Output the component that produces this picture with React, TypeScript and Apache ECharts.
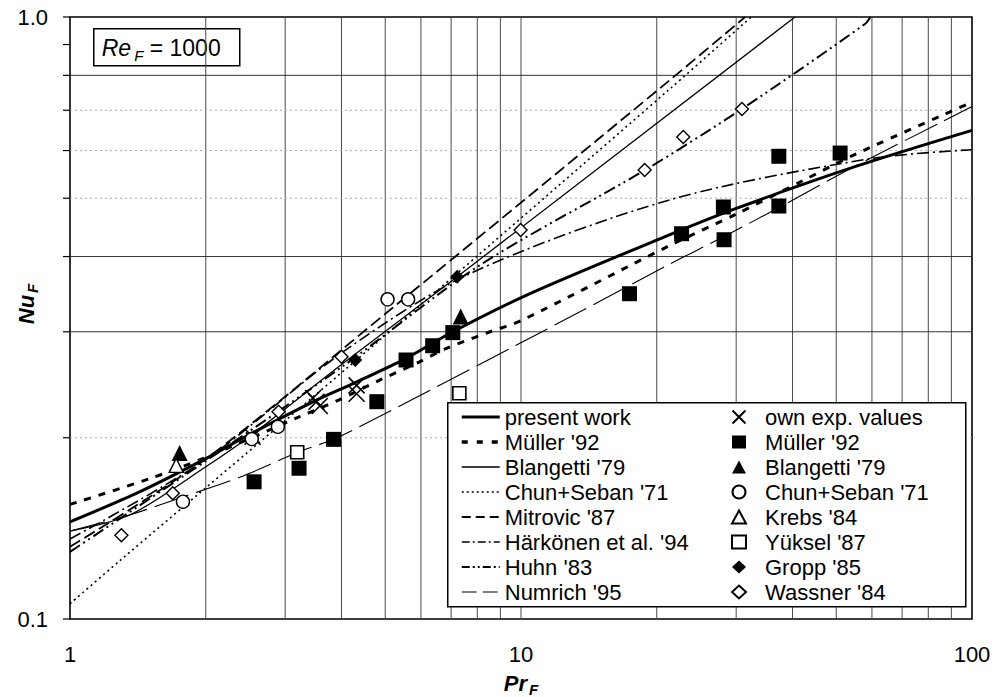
import React, { useEffect, useRef } from "react";
import * as echarts from "echarts";

// ---------- axis / grid values ----------
const xGridValues = [2, 3, 4, 5, 6, 7, 8, 9, 10, 20, 30, 40, 50, 60, 70, 80, 90];
const yGridDark = [0.3, 0.4, 0.8];
const yGridLight = [0.2, 0.5, 0.6, 0.7];
const yTickValues = [0.1, 0.2, 0.3, 0.4, 0.5, 0.6, 0.7, 0.8, 0.9, 1.0];
const yLabelMap: Record<string, string> = { "0.1": "0.1", "1": "1.0" };

// ---------- correlations (Pr_F, Nu_F) ----------
const presentWork = [[1, 0.145], [1.41, 0.162], [1.98, 0.184], [2.53, 0.2035], [3.52, 0.231], [4.29, 0.247], [5.56, 0.271], [7.06, 0.3], [10.5, 0.3475], [21.4, 0.435], [29.8, 0.48], [54.6, 0.563], [100, 0.648]];
const muellerFit = [[1, 0.155], [1.5, 0.171], [1.98, 0.185], [3.24, 0.217], [3.94, 0.231], [4.87, 0.2495], [5.87, 0.266], [6.84, 0.2816], [8.54, 0.3], [10, 0.313], [21.4, 0.4175], [30.1, 0.471], [42.3, 0.5355], [55.5, 0.593], [100, 0.722]];
const blangettiFit = [[1, 0.14], [1.36, 0.149], [2.0, 0.179], [2.53, 0.2024], [4.0, 0.2646], [7.22, 0.3703], [40.5, 1.0]];
const chunSebanFit = [[1, 0.106], [1.29, 0.125], [4.87, 0.291], [21.4, 0.76], [32.4, 1.0]];
const mitrovicFit = [[1, 0.1318], [2.0, 0.1844], [5.12, 0.326], [21.4, 0.786], [31.4, 1.0]];
const harkonenFit = [[1, 0.1358], [2.0, 0.184], [4.03, 0.2777], [7.71, 0.3748], [21.4, 0.497], [59.4, 0.5815], [100, 0.602]];
const huhnFit = [[1, 0.1293], [2.0, 0.183], [4.0, 0.262], [8.11, 0.387], [18.84, 0.557], [30.9, 0.7036], [57.9, 0.9736], [59.5, 1.0]];
const numrichFit = [[1, 0.14], [1.36, 0.149], [1.78, 0.1595], [2.42, 0.1728], [3.19, 0.189], [3.83, 0.1988], [4.63, 0.213], [12.84, 0.3174], [21.4, 0.3889], [28.05, 0.431], [37.5, 0.4835], [54.5, 0.563], [100, 0.71]];

// ---------- experimental data (Pr_F, Nu_F) ----------
const ownExp = [[2.54, 0.2008], [3.46, 0.2329], [3.52, 0.2295], [3.58, 0.2258], [4.32, 0.2444], [4.32, 0.2367]];
const muellerData = [[2.56, 0.169], [3.22, 0.178], [3.84, 0.1988], [4.79, 0.2296], [5.56, 0.2693], [6.37, 0.2844], [7.06, 0.299], [17.4, 0.347], [22.7, 0.4365], [28.1, 0.4835], [28.2, 0.4266], [37.3, 0.587], [37.3, 0.4853], [51.0, 0.5943]];
const blangettiData = [[1.75, 0.1887], [7.35, 0.318]];
const chunSebanData = [[1.78, 0.1566], [2.53, 0.199], [2.89, 0.2086], [5.06, 0.3396], [5.62, 0.3396]];
const krebsData = [[1.72, 0.18]];
const yukselData = [[3.19, 0.1892], [7.3, 0.2371]];
const groppData = [[4.29, 0.2693], [7.22, 0.3703]];
const wassnerData = [[1.3, 0.1378], [1.69, 0.1617], [2.9, 0.221], [4.0, 0.2727], [9.98, 0.4428], [18.8, 0.557], [22.9, 0.632], [30.9, 0.7036]];

const FONT = "'Liberation Sans', Arial, Helvetica, sans-serif";
const X_PATH = "path://M0,0L10,10M10,0L0,10";

export default function App() {
  const ref = useRef<HTMLDivElement>(null);

  useEffect(() => {
    document.body.style.margin = "0";
    if (!ref.current) return;
    const chart = echarts.init(ref.current, undefined, { renderer: "svg" });

    const lineDefs = [
      { name: "present work", data: presentWork, width: 3, type: "solid" as any, lw: 3, ltype: "solid" as any },
      { name: "Müller '92", data: muellerFit, width: 3, type: [7, 8], lw: 3.5, ltype: [6, 9] },
      { name: "Blangetti '79", data: blangettiFit, width: 1.3, type: "solid" as any, lw: 1.5, ltype: "solid" as any },
      { name: "Chun+Seban '71", data: chunSebanFit, width: 1.6, type: [2, 3.5], lw: 1.5, ltype: [2, 3] },
      { name: "Mitrovic '87", data: mitrovicFit, width: 1.8, type: [12, 5], lw: 2, ltype: [9, 5] },
      { name: "Härkönen et al. '94", data: harkonenFit, width: 1.6, type: [12, 4, 2, 4], lw: 1.6, ltype: [8, 3, 2, 3] },
      { name: "Huhn '83", data: huhnFit, width: 2, type: [12, 4, 2, 4, 2, 4], lw: 2, ltype: [8, 3, 2, 3, 2, 3] },
      { name: "Numrich '95", data: numrichFit, width: 1.1, type: [36, 8], lw: 1.2, ltype: [15, 6] },
    ];

    const scatterDefs = [
      { name: "own exp. values", data: ownExp, symbol: X_PATH, size: 16, fill: "rgba(0,0,0,0)", border: 1.6 },
      { name: "Müller '92 ", data: muellerData, symbol: "rect", size: 15, fill: "#000", border: 0 },
      { name: "Blangetti '79 ", data: blangettiData, symbol: "triangle", size: 16, fill: "#000", border: 0 },
      { name: "Chun+Seban '71 ", data: chunSebanData, symbol: "circle", size: 13, fill: "#fff", border: 1.4 },
      { name: "Krebs '84", data: krebsData, symbol: "triangle", size: 14, fill: "#fff", border: 1.4 },
      { name: "Yüksel '87", data: yukselData, symbol: "rect", size: 13, fill: "#fff", border: 1.6 },
      { name: "Gropp '85", data: groppData, symbol: "diamond", size: 14, fill: "#000", border: 0 },
      { name: "Wassner '84", data: wassnerData, symbol: "diamond", size: 13, fill: "#fff", border: 1.4 },
    ];

    const gridX = {
      type: "custom",
      silent: true,
      z: 1,
      data: xGridValues.map((v) => [v, 0.1]),
      renderItem: (_p: any, api: any) => {
        const v = api.value(0);
        const a = api.coord([v, 0.1]);
        const b = api.coord([v, 1]);
        return { type: "line", shape: { x1: a[0], y1: a[1], x2: b[0], y2: b[1] }, style: { stroke: "#4a4a4a", lineWidth: 1 } };
      },
    };
    const gridYDark = {
      type: "custom",
      silent: true,
      z: 1,
      data: yGridDark.map((v) => [1, v]),
      renderItem: (_p: any, api: any) => {
        const v = api.value(1);
        const a = api.coord([1, v]);
        const b = api.coord([100, v]);
        return { type: "line", shape: { x1: a[0], y1: a[1], x2: b[0], y2: b[1] }, style: { stroke: "#333", lineWidth: 1 } };
      },
    };
    const gridYLight = {
      type: "custom",
      silent: true,
      z: 1,
      data: yGridLight.map((v) => [1, v]),
      renderItem: (_p: any, api: any) => {
        const v = api.value(1);
        const a = api.coord([1, v]);
        const b = api.coord([100, v]);
        return { type: "line", shape: { x1: a[0], y1: a[1], x2: b[0], y2: b[1] }, style: { stroke: "#aaa", lineWidth: 1, lineDash: [2, 3] } };
      },
    };
    const yTicks = {
      type: "custom",
      silent: true,
      z: 1,
      data: yTickValues.map((v) => [1, v]),
      renderItem: (_p: any, api: any) => {
        const v = api.value(1);
        const a = api.coord([1, v]);
        return { type: "line", shape: { x1: a[0] - 7, y1: a[1], x2: a[0], y2: a[1] }, style: { stroke: "#000", lineWidth: 1.2 } };
      },
    };

    const series: any[] = [gridX, gridYDark, gridYLight, yTicks];
    lineDefs.forEach((d) => {
      series.push({
        type: "line",
        name: d.name,
        data: d.data,
        symbol: "none",
        smooth: 0.3,
        z: 3,
        color: "#000",
        itemStyle: { color: "#000" },
        lineStyle: { color: "#000", width: d.width, type: d.type },
      });
    });
    scatterDefs.forEach((d) => {
      series.push({
        type: "scatter",
        name: d.name,
        data: d.data,
        symbol: d.symbol,
        symbolSize: d.size,
        z: 5,
        itemStyle: { color: d.fill, borderColor: "#000", borderWidth: d.border, opacity: 1 },
      });
    });

    const legendText = { fontFamily: FONT, fontSize: 22, color: "#000", lineHeight: 25 };
    const nameRich = {
      n: { fontSize: 22, fontWeight: "bold", fontStyle: "italic", fontFamily: FONT, color: "#000", lineHeight: 28 },
      s: { fontSize: 15, fontWeight: "bold", fontStyle: "italic", fontFamily: FONT, color: "#000", verticalAlign: "bottom", lineHeight: 15, padding: [0, 0, 0, 2] },
    };

    const option: any = {
      animation: false,
      textStyle: { fontFamily: FONT },
      grid: {
        left: 70, right: 24, top: 17, bottom: 78,
        containLabel: false,
        outerBoundsMode: "none",
        show: true, borderColor: "#000", borderWidth: 1.6, backgroundColor: "#fff",
      },
      xAxis: {
        type: "log",
        logBase: 10,
        min: 1,
        max: 100,
        axisLine: { show: false },
        axisTick: { show: false },
        splitLine: { show: false },
        axisLabel: { color: "#000", fontSize: 22, fontFamily: FONT, margin: 24 },
        name: "{n|Pr}{s|F}",
        nameLocation: "middle",
        nameGap: 50,
        nameMoveOverlap: false,
        nameTextStyle: { color: "#000", rich: nameRich },
      },
      yAxis: {
        type: "log",
        logBase: 10,
        min: 0.1,
        max: 1,
        axisLine: { show: false },
        axisTick: { show: false },
        splitLine: { show: false },
        axisLabel: {
          color: "#000",
          fontSize: 22,
          fontFamily: FONT,
          margin: 22,
          formatter: (v: number) => yLabelMap[String(Math.round(v * 1000) / 1000)] || "",
        },
        name: "{n|Nu}{s|F}",
        nameLocation: "middle",
        nameRotate: 90,
        nameGap: 30,
        nameMoveOverlap: false,
        nameTextStyle: { color: "#000", rich: nameRich, padding: [0, 0, 0, 28] },
      },
      legend: [
        {
          orient: "vertical",
          left: 460,
          top: 404.5,
          padding: 0,
          itemGap: 0,
          itemWidth: 38,
          itemHeight: 14,
          selectedMode: false,
          z: 6,
          textStyle: legendText,
          formatter: (n: string) => n.trim(),
          data: lineDefs.map((d) => ({
            name: d.name,
            itemStyle: { color: "rgba(0,0,0,0)", borderWidth: 0, opacity: 0 },
            lineStyle: { color: "#000", width: d.lw, type: d.ltype, opacity: 1 },
          })),
        },
        {
          orient: "vertical",
          left: 731,
          top: 404.5,
          padding: 0,
          itemGap: 0,
          itemWidth: 14,
          itemHeight: 13,
          selectedMode: false,
          z: 6,
          textStyle: { ...legendText, padding: [0, 0, 0, 14] },
          formatter: (n: string) => n.trim(),
          data: scatterDefs.map((d) => ({ name: d.name })),
        },
      ],
      graphic: [
        {
          type: "group",
          left: 93,
          top: 28,
          z: 10,
          children: [
            { type: "rect", shape: { x: 0, y: 0, width: 146, height: 37 }, style: { fill: "#fff", stroke: "#000", lineWidth: 1.5 } },
            {
              type: "text",
              x: 8,
              y: 19,
              style: {
                text: "{i|Re}{s|F}{n| = 1000}",
                verticalAlign: "middle",
                rich: {
                  i: { fontSize: 23, fontStyle: "italic", fontFamily: FONT, fill: "#000", lineHeight: 30 },
                  s: { fontSize: 15, fontStyle: "italic", fontFamily: FONT, fill: "#000", verticalAlign: "bottom", lineHeight: 15, padding: [0, 0, 0, 3] },
                  n: { fontSize: 23, fontFamily: FONT, fill: "#000", lineHeight: 30 },
                },
              },
            },
          ],
        },
        {
          type: "rect",
          left: 447,
          top: 402,
          z: 4,
          shape: { x: 0, y: 0, width: 518, height: 204 },
          style: { fill: "#fff", stroke: "#000", lineWidth: 1.5 },
        },
      ],
      series,
    };

    chart.setOption(option);
    return () => chart.dispose();
  }, []);

  return <div ref={ref} style={{ width: 996, height: 697 }} />;
}
